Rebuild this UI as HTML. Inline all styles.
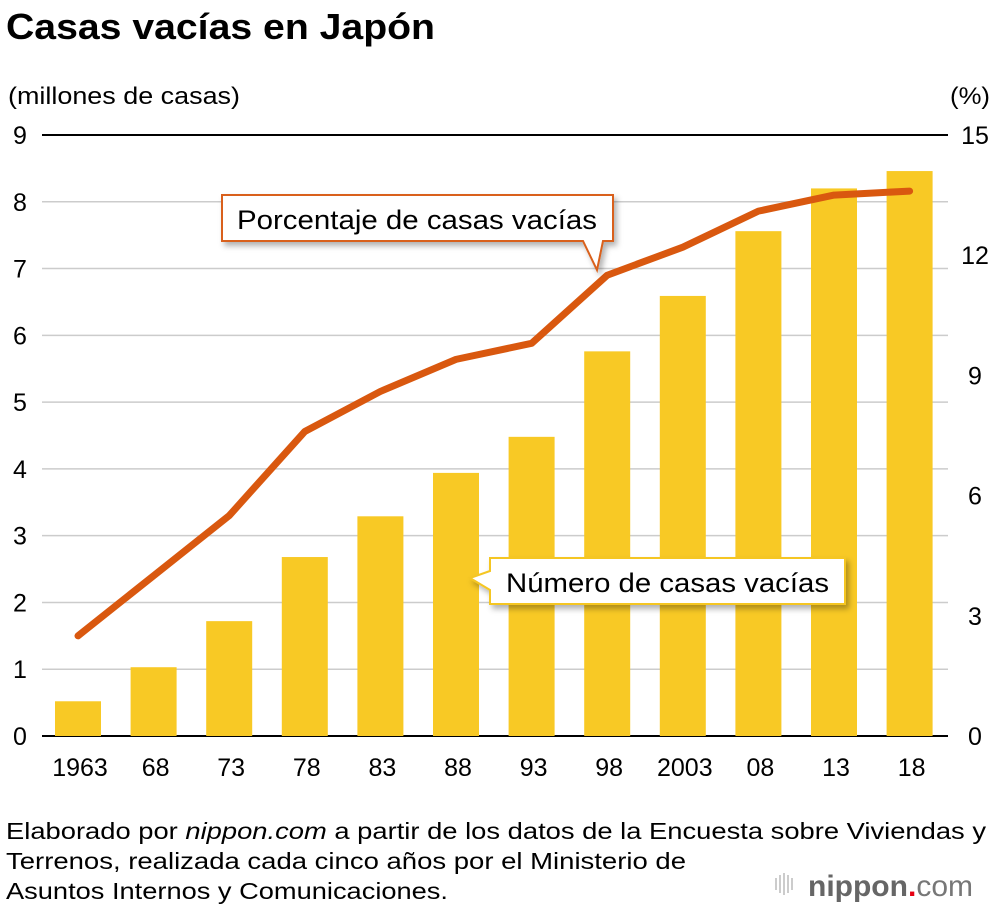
<!DOCTYPE html>
<html><head><meta charset="utf-8"><style>
body{margin:0;background:#fff;width:1000px;height:910px;overflow:hidden;font-family:"Liberation Sans",Arial,sans-serif}
</style></head><body>
<svg id="chart" width="1000" height="910" xmlns="http://www.w3.org/2000/svg" font-family="Liberation Sans, Arial, sans-serif">
<defs><filter id="sh" x="-10%" y="-20%" width="130%" height="160%"><feDropShadow dx="3" dy="4" stdDeviation="3" flood-color="#000" flood-opacity="0.3"/></filter></defs>
<text x="6" y="39" font-size="36" font-weight="bold" fill="#000" textLength="429" lengthAdjust="spacingAndGlyphs">Casas vacías en Japón</text>
<text x="8" y="104" font-size="24" fill="#000" textLength="232" lengthAdjust="spacingAndGlyphs">(millones de casas)</text>
<text x="950" y="104" font-size="24" fill="#000" textLength="40" lengthAdjust="spacingAndGlyphs">(%)</text>
<g id="grid"></g><g id="bars"></g><g id="line"></g><g id="labels"></g>
<g filter="url(#sh)">
<path d="M222,195 H613 V241 H603 L597,270 L583,241 H222 Z" fill="#fff" stroke="#d9601a" stroke-width="2"/>
</g>
<text x="237" y="229" font-size="27" fill="#000" textLength="360" lengthAdjust="spacingAndGlyphs">Porcentaje de casas vacías</text>
<g filter="url(#sh)">
<path d="M490,558 H845 V604 H490 V590 L470,578 L490,571 Z" fill="#fff" stroke="#f5c623" stroke-width="2"/>
</g>
<text x="506" y="592" font-size="27" fill="#000" textLength="323" lengthAdjust="spacingAndGlyphs">Número de casas vacías</text>
<text font-size="23" fill="#000">
<tspan x="6" y="839" textLength="980" lengthAdjust="spacingAndGlyphs">Elaborado por <tspan font-style="italic">nippon.com</tspan> a partir de los datos de la Encuesta sobre Viviendas y</tspan>
<tspan x="6" y="869" textLength="680" lengthAdjust="spacingAndGlyphs">Terrenos, realizada cada cinco años por el Ministerio de</tspan>
<tspan x="6" y="899" textLength="442" lengthAdjust="spacingAndGlyphs">Asuntos Internos y Comunicaciones.</tspan></text>
<g>
<rect x="775" y="878" width="2" height="12" fill="#ccc"/><rect x="779" y="875" width="2" height="18" fill="#ccc"/><rect x="783" y="873" width="2" height="22" fill="#ccc"/><rect x="787" y="875" width="2" height="18" fill="#ccc"/><rect x="791" y="878" width="2" height="12" fill="#ccc"/>
<text x="808" y="896" font-size="30" font-weight="bold" fill="#666">nippon<tspan fill="#e60012">.</tspan><tspan font-weight="normal" fill="#777">com</tspan></text>
</g>
</svg>
<script>
const categories=["1963","68","73","78","83","88","93","98","2003","08","13","18"];
const houses=[0.52,1.03,1.72,2.68,3.29,3.94,4.48,5.76,6.59,7.56,8.20,8.46];
const rates=[2.5,4.0,5.5,7.6,8.6,9.4,9.8,11.5,12.2,13.1,13.5,13.6];
const leftTicks=[0,1,2,3,4,5,6,7,8,9];
const rightTicks=[0,3,6,9,12,15];
const NS="http://www.w3.org/2000/svg";
const y0=736,yTop=135,x0=42,x1=948;
const yL=v=>y0-(y0-yTop)*v/9;
const yR=v=>y0-(y0-yTop)*v/15;
const xC=i=>78+i*75.6;
function mk(t,a,p){const e=document.createElementNS(NS,t);for(const k in a)e.setAttribute(k,a[k]);document.getElementById(p).appendChild(e);return e;}
leftTicks.forEach(v=>{
 const g=mk("line",{x1:x0,x2:x1,y1:yL(v),y2:yL(v),stroke:(v===0||v===9)?"#000":"#ccc","stroke-width":(v===0||v===9)?2:1.5},"grid");
 
 
 const t=mk("text",{x:20,y:yL(v)+9,"font-size":25,"text-anchor":"middle"},"labels");t.textContent=v;
 
 
});
rightTicks.forEach(v=>{
 const t=mk("text",{x:975,y:yR(v)+9,"font-size":25,"text-anchor":"middle"},"labels");t.textContent=v;
 
 
});
categories.forEach((c,i)=>{
 const b=mk("rect",{x:xC(i)-23,y:yL(houses[i]),width:46,height:y0-yL(houses[i]),fill:"#f8c925"},"bars");
 
 
 const t=mk("text",{x:xC(i)+2,y:776,"font-size":25,"text-anchor":"middle"},"labels");t.textContent=c;
 
 
});
const p=mk("polyline",{points:rates.map((v,i)=>xC(i)+","+yR(v)).join(" "),fill:"none",stroke:"#d9580f","stroke-width":7,"stroke-linecap":"round","stroke-linejoin":"round"},"line");


</script>
</body></html>
